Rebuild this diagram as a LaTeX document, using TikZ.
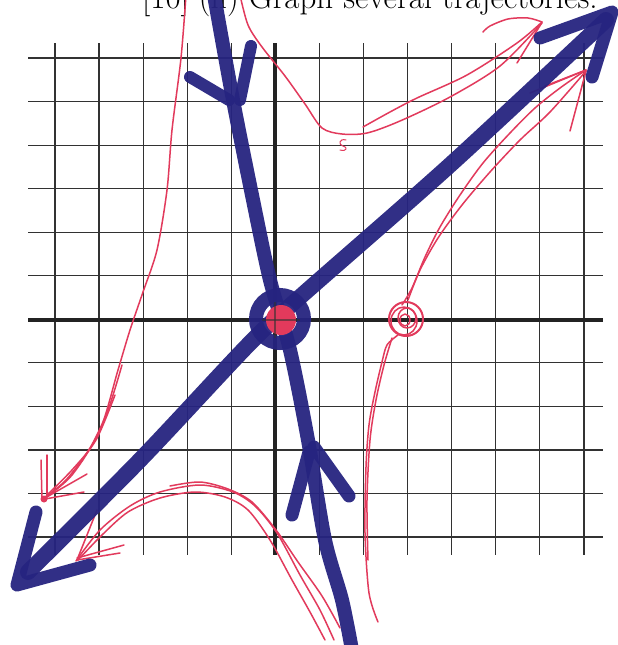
\documentclass[tikz,border=0pt]{standalone}
\definecolor{markerblue}{RGB}{38,36,128}
\definecolor{markerred}{RGB}{226,58,92}
\definecolor{gridgray}{RGB}{50,50,50}
\begin{document}
\begin{tikzpicture}[x=1pt,y=-1pt,
  gridline/.style={draw=gridgray,line width=1.2pt},
  axisline/.style={draw=gridgray!70!black,line width=4pt},
  bluestroke/.style={draw=markerblue,line width=13pt,line cap=round,line join=round},
  redstroke/.style={draw=markerred,line width=1.5pt,line cap=round,line join=round},
  titletext/.style={font=\fontsize{33}{38}\selectfont,inner sep=0pt,anchor=base west}]
\useasboundingbox (0,0) rectangle (618,645);
\clip (0,0) rectangle (618,645);
\fill[white] (0,0) rectangle (618,645);
% title (cut off at the top, as in the scan)
\node[titletext] (title) at (142,9) {[10] (ii) Graph several trajectories.};
% grid
\foreach \i in {0,...,12} { \draw[gridline] ({55+44.08*\i},43) -- ({55+44.08*\i},555); }
\foreach \j in {0,...,11} { \draw[gridline] (28,{58+43.55*\j}) -- (603,{58+43.55*\j}); }
\draw[axisline] (28,320) -- (603,320);
\draw[axisline] (275,43) -- (275,555);
% red trajectories
\begin{scope}[redstroke]
% left
\draw plot[smooth] coordinates {(186,-5) (181,58) (172,130) (167,190) (157,250) (143,292) (130,330) (118,370) (100,430) (72,475) (44,499)};
\draw plot[smooth] coordinates {(122,365) (108,410) (90,448) (66,480) (45,497)};
\draw plot[smooth] coordinates {(115,395) (96,440) (72,470) (48,494)};
\draw (42,500) -- (41,460);
\draw (47,497) -- (47,455);
\draw (45,498) -- (87,474);
\draw (45,499) -- (84,492);
\fill[markerred] (44,499) circle[radius=3.5];
% top middle
\draw plot[smooth] coordinates {(240,-5) (248,25) (262,47) (285,76) (305,104) (322,128) (342,134) (367,133) (400,121) (450,97) (500,66) (542,23)};
\draw plot[smooth] coordinates {(363,127) (390,112) (417,98) (467,75) (517,43) (542,22)};
\draw plot[smooth] coordinates {(542,22) (528,18) (508,19) (490,26) (483,32)};
\draw (541,24) -- (517,63);
\draw[line width=1pt] (346,140) .. controls (339,138) and (338,145) .. (343,146) .. controls (348,147) and (347,152) .. (340,150);
% right
\draw[line width=2pt] (406,319) ellipse[x radius=17,y radius=17];
\draw (404,321) ellipse[x radius=13,y radius=14];
\draw (407,318) ellipse[x radius=9,y radius=10];
\draw (405,320) ellipse[x radius=5,y radius=6];
\draw plot[smooth] coordinates {(402,305) (412,288) (425,257) (440,227) (460,195) (483,163) (510,133) (535,108) (560,88) (586,70)};
\draw plot[smooth] coordinates {(408,300) (420,270) (438,238) (462,205) (490,172) (520,140) (550,112) (586,71)};
\draw (586,70) -- (530,93);
\draw (586,71) -- (570,131);
\draw (586,70) -- (545,86);
\draw plot[smooth] coordinates {(398,335) (387,345) (382,362) (375,392) (369,425) (366,467) (365,533) (369,593) (378,622)};
\draw plot[smooth] coordinates {(392,338) (384,365) (376,400) (370,440) (367,500) (368,560)};
% bottom
\draw plot[smooth] coordinates {(334,640) (320,610) (300,575) (277,533) (255,506) (233,492) (200,485) (160,492) (130,506) (100,530) (76,561)};
\draw plot[smooth] coordinates {(325,640) (310,612) (292,580) (270,540) (248,510) (225,497) (195,492) (160,498) (128,512) (102,535) (78,560)};
\draw plot[smooth] coordinates {(340,628) (322,596) (298,562) (276,530) (252,502) (228,489) (200,482) (170,486)};
\draw (77,560) -- (97,510);
\draw (77,558) -- (124,545);
\draw (77,560) -- (120,553);
\end{scope}
% blue eigen-lines
\begin{scope}[opacity=0.95]
\draw[bluestroke,line width=14pt] plot[smooth] coordinates {(214,-5) (233,100) (253,200) (270,280) (290,350) (308,440) (325,540) (342,600) (352,650)};
\draw[bluestroke,line width=12pt] (190,77) -- (229,100);
\draw[bluestroke,line width=12pt] (251,46) -- (240,100);
\draw[bluestroke] (292,515) -- (309,452);
\draw[bluestroke] (349,496) -- (314,447);
\draw[bluestroke,line width=16pt] plot[smooth] coordinates {(28,572) (140,460) (250,343) (300,297) (450,165) (606,20)};
\draw[bluestroke] (36,512) -- (17,585) -- (90,565);
\draw[bluestroke] (540,38) -- (612,12) -- (592,77);
\draw[markerblue,line width=14pt] (280,319) circle[radius=24];
\end{scope}
\fill[markerred] (281,320) circle[radius=15];
\draw[gridline,line width=2pt,opacity=0.6] (262,320) -- (300,320);
\draw[gridline,line width=2pt,opacity=0.6] (275,302) -- (275,338);
\end{tikzpicture}
\end{document}
